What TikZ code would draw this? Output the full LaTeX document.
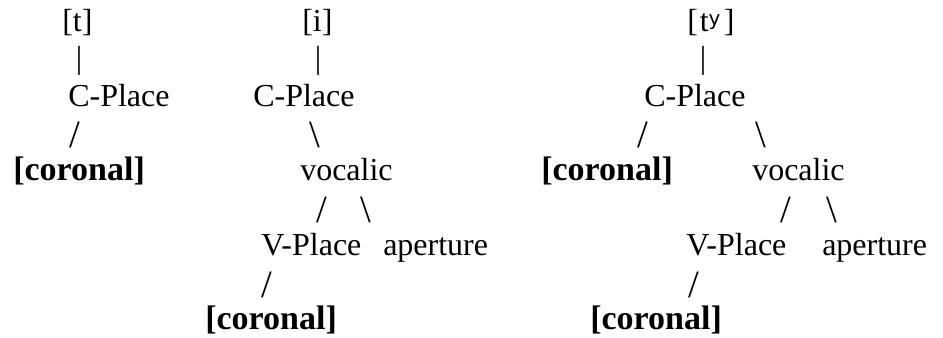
\documentclass[tikz,border=0pt]{standalone}
\usepackage{fontspec}
\setmainfont{Liberation Serif}
\newfontfamily\modfont{DejaVu Sans}

\begin{document}
\begin{tikzpicture}[x=0.75pt,y=0.75pt,yscale=-1,xscale=1,
  lbl/.style={anchor=base west,inner sep=0pt,font=\fontsize{24}{28}\selectfont},
  barmark/.style={lbl,anchor=base},
  slash/.style={lbl,font=\fontsize{29}{32}\selectfont},
  feat/.style={lbl,font=\fontsize{25.5}{28}\selectfont\bfseries}]
\useasboundingbox (0,0) rectangle (943,337);

%Tree [t]
	\draw (62,31) node (segT) [lbl] {[t]};
	\draw (79,68.5) node (barT) [barmark] {|};
	\draw (68,106) node (cplT) [lbl] {C-Place};
	\draw (69,147) node (slT) [slash] {/};
	\draw (13,180) node (corT) [feat] {[coronal]};

%Tree [i]
	\draw (302,31) node (segI) [lbl] {[i]};
	\draw (318,68.5) node (barI) [barmark] {|};
	\draw (253,106) node (cplI) [lbl] {C-Place};
	\draw (309,147) node (bsI) [slash] {\textbackslash};
	\draw (300,180) node (vocI) [lbl] {vocalic};
	\draw (316,222) node (slI) [slash] {/};
	\draw (360,222) node (bsIb) [slash] {\textbackslash};
	\draw (261,255) node (vplI) [lbl] {V-Place};
	\draw (383,255) node (apI) [lbl] {aperture};
	\draw (261,297) node (slIb) [slash] {/};
	\draw (205,329) node (corI) [feat] {[coronal]};

%Tree [t^y]
	\draw (687,31) node (segTy) [lbl] {[\kern0.06em t\raisebox{3.8pt}{\fontsize{15}{16}\modfont y}\kern0.1em]};
	\draw (703,68.5) node (barTy) [barmark] {|};
	\draw (644,106) node (cplTy) [lbl] {C-Place};
	\draw (637,147) node (slTy) [slash] {/};
	\draw (755,147) node (bsTy) [slash] {\textbackslash};
	\draw (541,180) node (corTy) [feat] {[coronal]};
	\draw (752,180) node (vocTy) [lbl] {vocalic};
	\draw (780,222) node (slTyb) [slash] {/};
	\draw (826,222) node (bsTyb) [slash] {\textbackslash};
	\draw (686,255) node (vplTy) [lbl] {V-Place};
	\draw (822,255) node (apTy) [lbl] {aperture};
	\draw (688,297) node (slTyc) [slash] {/};
	\draw (590,329) node (corTyb) [feat] {[coronal]};

\end{tikzpicture}
\end{document}
